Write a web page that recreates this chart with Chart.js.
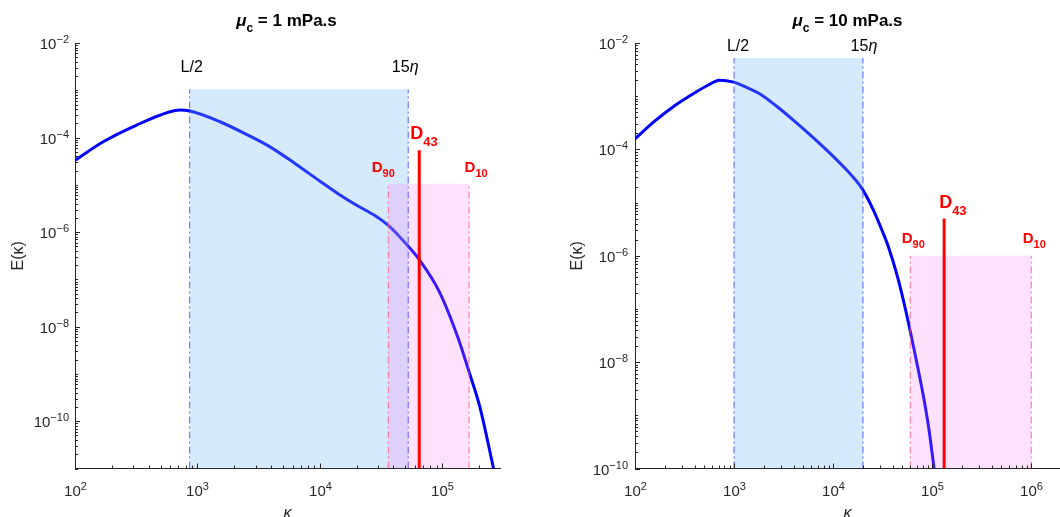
<!DOCTYPE html>
<html>
<head>
<meta charset="utf-8">
<script src="https://cdn.jsdelivr.net/npm/chart.js@4.4.1/dist/chart.umd.min.js"></script>
<style>
body { margin: 0; background: #fff; }
.box { position: absolute; top: 0; width: 530px; height: 517px; }
</style>
</head>
<body>
<div class="box" style="left:0"><canvas id="cL" width="530" height="517"></canvas></div>
<div class="box" style="left:530px"><canvas id="cR" width="530" height="517"></canvas></div>
<script>
// energy spectra E(kappa)
const kappaL = [100, 170, 319, 597, 721, 871, 1530, 2510, 3980, 6310, 10000, 14100, 20000, 28200, 36100, 44700, 53000, 64900, 95100, 135000, 166000, 204000, 263000];
const energyL = [3.3e-5, 8.15e-5, 1.84e-4, 3.51e-4, 3.81e-4, 3.63e-4, 2.16e-4, 1.17e-4, 6.2e-5, 2.8e-5, 1.2e-5, 6.5e-6, 3.7e-6, 2.24e-6, 1.4e-6, 8.1e-7, 4.97e-7, 2.63e-7, 5.4e-8, 5.75e-9, 1.1e-9, 1.95e-10, 1e-11];
const kappaR = [100, 158, 251, 398, 562, 710, 970, 1320, 1830, 2690, 3960, 5820, 8610, 13700, 19500, 25500, 30200, 36100, 44700, 53600, 62700, 72400, 82600, 93300, 104500];
const energyR = [1.58e-4, 3.39e-4, 6.61e-4, 1.15e-3, 1.66e-3, 2.0e-3, 1.86e-3, 1.48e-3, 1.1e-3, 6.46e-4, 3.56e-4, 1.9e-4, 9.7e-5, 4.08e-5, 1.85e-5, 7.24e-6, 3.47e-6, 1.48e-6, 4e-7, 1e-7, 2.6e-8, 7.1e-9, 2e-9, 5e-10, 1e-10];

// marker wavenumbers: L/2, 15eta, D90, D43, D10
const markKappaL = [865, 52800, 36300, 65000, 166000];
const markKappaR = [1000, 20000, 60000, 132000, 1000000];
// heights: inertial band top, droplet band top, D43 line top
const markEL = [1.05e-3, 1.05e-5, 5.4e-5];
const markER = [5.25e-3, 1e-6, 5e-6];

// continuous phase viscosity (mPa.s)
const viscosity = ['1', '10'];

const FONT = "'Liberation Sans', Arial, Helvetica, sans-serif";
const decade = v => { const e = Math.log10(v); return Math.abs(e - Math.round(e)) < 1e-6 ? Math.round(e) : null; };

function logTicks(min, max) {
    const out = [];
    for (let e = Math.floor(Math.log10(min)); e <= Math.ceil(Math.log10(max)); e++) {
        for (let m = 1; m < 10; m++) {
            const v = Number((m * Math.pow(10, e)).toPrecision(6));
            if (v >= min * 0.9999 && v <= max * 1.0001) out.push({value: v});
        }
    }
    return out;
}

function rich(ctx, parts, x, y, align) {
    let w = 0;
    parts.forEach(p => { ctx.font = p[1]; w += ctx.measureText(p[0]).width; });
    let cx = align === 'center' ? x - w / 2 : align === 'right' ? x - w : x;
    ctx.textAlign = 'left';
    ctx.textBaseline = 'alphabetic';
    parts.forEach(p => {
        ctx.font = p[1];
        ctx.fillText(p[0], cx, y + (p[2] || 0));
        cx += ctx.measureText(p[0]).width;
    });
}

const powerParts = e => [['10', '15px ' + FONT], [String(e).replace('-', '\u2212'), '11px ' + FONT, -6]];

function makeChart(c) {
    const line = (x0, y0, x1, y1) => [{x: x0, y: y0}, {x: x1, y: y1}];
    const dash = [7, 3, 2, 3];
    const mk = c.mk, me = c.me;

    const decor = {
        id: 'decor',
        afterDraw(chart) {
            const ctx = chart.ctx, xs = chart.scales.x, ys = chart.scales.y, a = chart.chartArea;
            ctx.save();
            // inward tick marks and power-of-ten labels
            ctx.strokeStyle = '#262626';
            ctx.fillStyle = '#262626';
            ctx.lineWidth = 1;
            xs.ticks.forEach(t => {
                const e = decade(t.value);
                const p = Math.round(xs.getPixelForValue(t.value)) + 0.5;
                ctx.beginPath(); ctx.moveTo(p, a.bottom); ctx.lineTo(p, a.bottom - (e !== null ? 5 : 3)); ctx.stroke();
                if (e !== null) rich(ctx, powerParts(e), p, a.bottom + 27.5, 'center');
            });
            ys.ticks.forEach(t => {
                const e = decade(t.value);
                const major = e !== null && e % 2 === 0;
                const p = Math.round(ys.getPixelForValue(t.value)) + 0.5;
                ctx.beginPath(); ctx.moveTo(a.left, p); ctx.lineTo(a.left + (major ? 5 : 3), p); ctx.stroke();
                if (major) rich(ctx, powerParts(e), a.left - c.yTickPad, p + 5.5, 'right');
            });

            // title
            ctx.fillStyle = '#000';
            rich(ctx, [['\u03BC', 'italic bold 17px ' + FONT], ['c', 'bold 12px ' + FONT, 6],
                       [' = ' + c.visc + ' mPa.s', 'bold 17px ' + FONT]],
                 (a.left + a.right) / 2 + c.titleDx, 25.5, 'center');

            // range labels
            const px = v => xs.getPixelForValue(v);
            const py = v => ys.getPixelForValue(v);
            rich(ctx, [['L/2', '16px ' + FONT]], px(mk[0]) + c.l2Dx, c.topLabelY, 'center');
            rich(ctx, [['15', '16px ' + FONT], ['\u03B7', 'italic 16px ' + FONT]], px(mk[1]) + c.etaDx, c.topLabelY, 'center');

            ctx.fillStyle = '#ff0000';
            rich(ctx, [['D', 'bold 18px ' + FONT], ['43', 'bold 13px ' + FONT, 7]], px(mk[3]) + c.d43Dx, py(me[2]) - c.d43Dy, 'left');
            rich(ctx, [['D', 'bold 15px ' + FONT], ['90', 'bold 11px ' + FONT, 5]], px(mk[2]) + c.d90Dx, py(me[1]) - c.dDy, 'center');
            rich(ctx, [['D', 'bold 15px ' + FONT], ['10', 'bold 11px ' + FONT, 5]], px(mk[4]) + c.d10Dx, py(me[1]) - c.dDy, 'center');
            ctx.restore();
        }
    };

    return new Chart(document.getElementById(c.id), {
        type: 'line',
        data: {
            datasets: [{
                data: c.kappa.map((k, i) => ({x: k, y: c.energy[i]})),
                borderColor: '#0000ff',
                borderWidth: 3,
                pointRadius: 0,
                cubicInterpolationMode: 'monotone',
                order: 10
            }, {
                data: line(mk[0], me[0], mk[1], me[0]),
                fill: 'start',
                backgroundColor: 'rgba(120,185,248,0.3)',
                borderWidth: 0,
                pointRadius: 0,
                order: 6
            }, {
                data: line(mk[2], me[1], mk[4], me[1]),
                fill: 'start',
                backgroundColor: 'rgba(250,120,245,0.22)',
                borderWidth: 0,
                pointRadius: 0,
                order: 5
            }, {
                data: line(mk[0], c.yMin, mk[0], me[0]),
                borderColor: 'rgba(70,80,255,0.9)', borderWidth: 1, borderDash: dash, pointRadius: 0, order: 3
            }, {
                data: line(mk[1], c.yMin, mk[1], me[0]),
                borderColor: 'rgba(70,80,255,0.9)', borderWidth: 1, borderDash: dash, pointRadius: 0, order: 3
            }, {
                data: line(mk[2], c.yMin, mk[2], me[1]),
                borderColor: 'rgba(255,90,130,0.9)', borderWidth: 1, borderDash: dash, pointRadius: 0, order: 3
            }, {
                data: line(mk[4], c.yMin, mk[4], me[1]),
                borderColor: 'rgba(255,90,130,0.9)', borderWidth: 1, borderDash: dash, pointRadius: 0, order: 3
            }, {
                data: line(mk[3], c.yMin, mk[3], me[2]),
                borderColor: '#ff0000', borderWidth: 3, pointRadius: 0, order: 1
            }]
        },
        options: {
            responsive: false,
            animation: false,
            events: [],
            layout: {padding: {left: 0, right: c.padRight, top: 43, bottom: 0}},
            plugins: {legend: {display: false}, tooltip: {enabled: false}},
            scales: {
                x: {
                    type: 'logarithmic',
                    min: 100,
                    max: c.xMax,
                    z: 1,
                    afterBuildTicks: s => { s.ticks = logTicks(100, c.xMax); },
                    afterFit: s => { s.height = 48.5; },
                    grid: {display: false, drawTicks: false},
                    border: {display: true, color: '#262626', width: 1},
                    ticks: {display: false},
                    title: {display: true, text: '\u03BA', color: '#262626',
                            font: {family: FONT, size: 16, style: 'italic'}, padding: {top: 0, bottom: -6}}
                },
                y: {
                    type: 'logarithmic',
                    min: c.yMin,
                    max: 1e-2,
                    z: 1,
                    afterBuildTicks: s => { s.ticks = logTicks(c.yMin, 1e-2); },
                    afterFit: s => { s.width = c.yWidth; },
                    grid: {display: false, drawTicks: false},
                    border: {display: true, color: '#262626', width: 1},
                    ticks: {display: false},
                    title: {display: true, text: 'E(\u03BA)', color: '#262626',
                            font: {family: FONT, size: 16}, padding: {top: c.yTitlePad, bottom: 0}}
                }
            }
        },
        plugins: [decor]
    });
}

makeChart({id: 'cL', kappa: kappaL, energy: energyL, mk: markKappaL, me: markEL, visc: viscosity[0],
           xMax: 2.97e5, yMin: 1e-11, yWidth: 75, padRight: 30, yTickPad: 6, yTitlePad: 9.4,
           titleDx: -1, topLabelY: 72, l2Dx: 2, etaDx: -3, d43Dx: -9, d43Dy: 11.7, d90Dx: -5, d10Dx: 7, dDy: 11.6});
makeChart({id: 'cR', kappa: kappaR, energy: energyR, mk: markKappaR, me: markER, visc: viscosity[1],
           xMax: 1.95e6, yMin: 1e-10, yWidth: 105, padRight: 0, yTickPad: 7, yTitlePad: 38.4,
           titleDx: 0, topLabelY: 50.7, l2Dx: 4, etaDx: 1, d43Dx: -5, d43Dy: 10.8, d90Dx: 3, d10Dx: 3, dDy: 12.5});
</script>
</body>
</html>
